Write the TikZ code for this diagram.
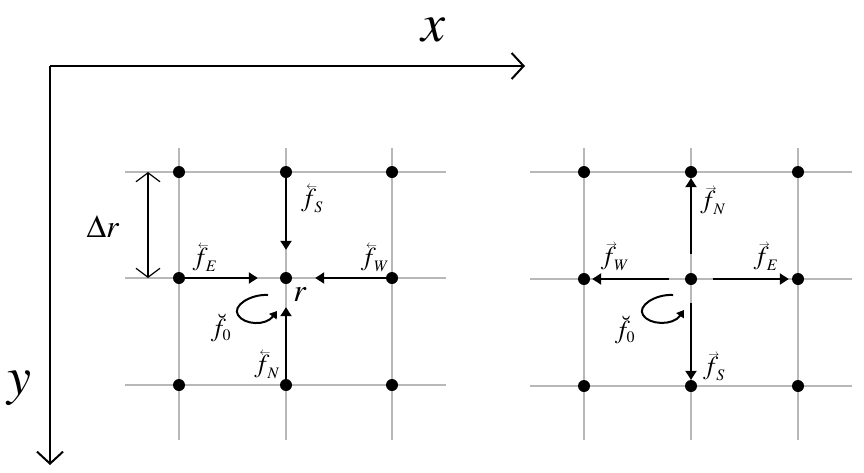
\documentclass[tikz,border=0pt]{standalone}
\usepackage{amsmath}
\usepackage{mathptmx}
\DeclareMathSizes{26}{26}{16}{11}
\DeclareMathSizes{32}{32}{22}{16}
\DeclareMathSizes{54}{54}{38}{27}
\usetikzlibrary{arrows.meta}
\newcommand{\lv}[1]{\mathord{\rlap{\raisebox{0.66em}{\kern0.2em$\scriptscriptstyle\leftarrow$}}#1}}
\newcommand{\rv}[1]{\mathord{\rlap{\raisebox{0.66em}{\kern0.2em$\scriptscriptstyle\rightarrow$}}#1}}
\begin{document}
\begin{tikzpicture}[x=1pt,y=-1pt,
  dot/.style={circle,fill=black,inner sep=0pt,minimum size=12pt},
  gridline/.style={draw=black!28,line width=2pt},
  force/.style={line width=2.2pt,-{Triangle[length=9pt,width=11pt]}},
  curl/.style={line width=2pt,-{Triangle[length=7pt,width=9pt]}},
  axis/.style={line width=2pt,-{Straight Barb[length=12pt,width=26pt,line width=2pt]}},
  lab/.style={inner sep=0pt,font=\fontsize{26}{28}\selectfont},
]
\useasboundingbox (0,0) rectangle (864,472);
% grids
\foreach \x in {179,286,392} \draw[gridline] (\x,148) -- (\x,440);
\foreach \y in {172,278,385} \draw[gridline] (125,\y) -- (446,\y);
\foreach \x in {584,691,798} \draw[gridline] (\x,148) -- (\x,440);
\foreach \y in {172,279,386} \draw[gridline] (530,\y) -- (852,\y);
% left dots
\foreach \x/\i in {179/0,286/1,392/2}
  \foreach \y/\j in {172/0,278/1,385/2}
    \node[dot] (L\i\j) at (\x,\y) {};
% right dots
\foreach \x/\i in {584/0,691/1,798/2}
  \foreach \y/\j in {172/0,279/1,386/2}
    \node[dot] (R\i\j) at (\x,\y) {};
% axes
\coordinate (O) at (50,66);
\coordinate (X) at (525,66);
\coordinate (Y) at (50,465);
\draw[axis] (O) -- (X);
\draw[axis] (O) -- (Y);
\node[inner sep=0pt,font=\fontsize{54}{56}\selectfont] (xl) at (434,30) {$x$};
\node[inner sep=0pt,font=\fontsize{54}{56}\selectfont] (yl) at (19,388) {$y$};
% delta r
\coordinate (d1) at (148,172);
\coordinate (d2) at (148,278);
\draw[line width=1.2pt,{Straight Barb[length=9pt,width=24pt,line width=1.2pt]}-{Straight Barb[length=9pt,width=24pt,line width=1.2pt]}] (d1) -- (d2);
\node[inner sep=0pt,font=\fontsize{32}{34}\selectfont] (dr) at (103,227) {$\Delta r$};
% left forces
\draw[force,shorten >=22pt] (L10) -- (L11);
\draw[force,shorten >=22pt] (L01) -- (L11);
\draw[force,shorten >=23pt] (L21) -- (L11);
\draw[force,shorten >=23pt] (L12) -- (L11);
\node[lab] (lS) at (312,199) {$\lv{f}_{\!S}$};
\node[lab] (lE) at (205,258) {$\lv{f}_{\!E}$};
\node[lab] (lW) at (375,258) {$\lv{f}_{\!W}$};
\node[lab] (lN) at (267,365) {$\lv{f}_{\!N}$};
\node[lab] (l0) at (221,328) {$\breve{f}_{0}$};
\node[inner sep=0pt,font=\fontsize{32}{34}\selectfont] (lr) at (300,295) {$r$};
\coordinate (c1) at (268,295);
\coordinate (c2) at (277,311);
\draw[curl] (c1) .. controls (250,294) and (232,306) .. (238,315)
  .. controls (244,325) and (266,326) .. (c2);
% right forces
\draw[force,shorten <=19pt] (R11) -- (R10);
\draw[force,shorten <=18pt] (R11) -- (R12);
\draw[force,shorten <=16pt,shorten >=2pt] (R11) -- (R01);
\draw[force,shorten <=16pt,shorten >=3pt] (R11) -- (R21);
\node[lab] (rN) at (713,201) {$\rv{f}_{\!N}$};
\node[lab] (rS) at (714,367) {$\rv{f}_{\!S}$};
\node[lab] (rW) at (615,257) {$\rv{f}_{\!W}$};
\node[lab] (rE) at (766,257) {$\rv{f}_{\!E}$};
\node[lab] (r0) at (625,330) {$\breve{f}_{0}$};
\coordinate (e1) at (673,295);
\coordinate (e2) at (684,310);
\draw[curl] (e1) .. controls (655,294) and (637,306) .. (643,315)
  .. controls (649,325) and (673,326) .. (e2);
\end{tikzpicture}
\end{document}
